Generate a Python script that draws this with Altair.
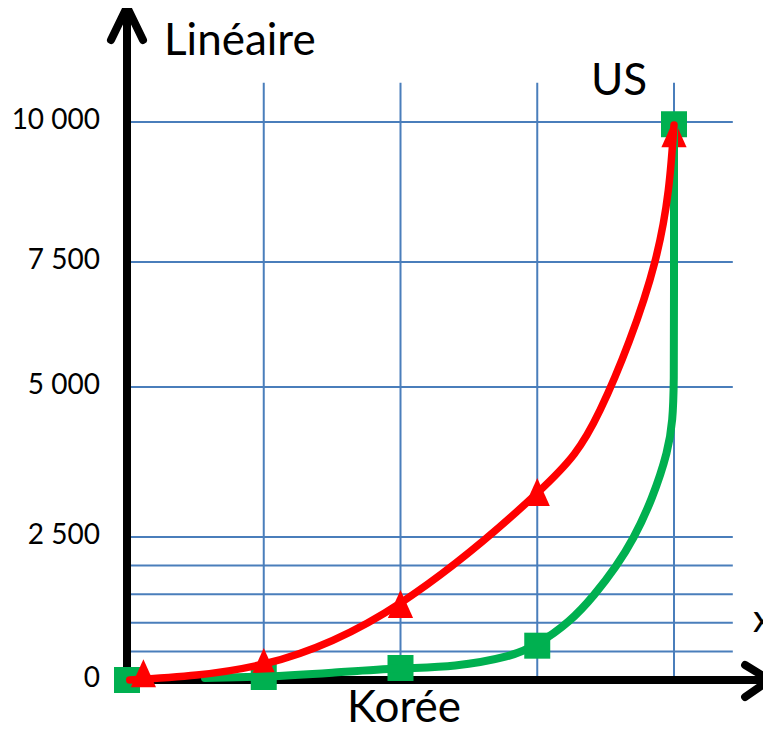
import altair as alt
import pandas as pd

# ---- data ----
y_ticks = [0, 2500, 5000, 7500, 10000]
y_tick_labels = ["0", "2 500", "5 000", "7 500", "10 000"]
y_grid = [500, 1000, 1500, 2000, 2500, 5000, 7500, 10000]
x_grid = [1, 2, 3, 4]
grid_x_end = 4.43
grid_y_top = 10700

# markers
red_mx = [0.12, 1, 2, 3, 4]
red_my = [120, 315, 1330, 3250, 9800]
green_mx = [0, 1, 2, 3, 4]
green_my = [0, 52, 210, 600, 9960]

# drawn curves (traced)
red_cx = [0.02, 1.0, 2.01, 3.0, 3.46, 3.86, 4.0]
red_cy = [0, 280, 1363, 3233, 4617, 7500, 9946]
green_cx = [0.57, 1.0, 1.5, 2.0, 2.4, 2.8, 3.0, 3.24, 3.42, 3.58, 3.70, 3.84, 3.96, 3.99, 4.0, 4.0, 4.0, 4.0]
green_cy = [35, 52, 125, 210, 230, 400, 610, 1014, 1486, 1993, 2447, 3120, 3950, 4450, 5000, 6740, 9900, 10000]

# axis arrows (data space)
yaxis_x = [0, 0]
yaxis_y = [-80, 12000]
yhead_x = [-0.117, 0, 0.117]
yhead_y = [11464, 12054, 11464]
xaxis_x = [-0.05, 4.68]
xaxis_y = [0, 0]
xhead_x = [4.52, 4.70, 4.52]
xhead_y = [262, 0, -297]

RED = "#FF0000"
GREEN = "#00B050"
BLUE = "#4A7EBB"
FONT = "Lato"

xs = alt.Scale(domain=[0, 4], range=[119, 666], nice=False, zero=False)
ys = alt.Scale(domain=y_ticks, range=[672, 529, 379, 254, 114], nice=False, zero=False)


def df_xy(xv, yv):
    return pd.DataFrame({"x": xv, "y": yv, "i": list(range(len(xv)))})


X = alt.X("x:Q", scale=xs, axis=None)
Y = alt.Y("y:Q", scale=ys, axis=None)

hgrid_df = pd.DataFrame({"y": y_grid, "x": [0] * len(y_grid), "x2": [grid_x_end] * len(y_grid)})
hgrid = alt.Chart(hgrid_df).mark_rule(color=BLUE, strokeWidth=2).encode(
    y=Y, x=X, x2="x2:Q"
)
vgrid_df = pd.DataFrame({"x": x_grid, "y": [0] * len(x_grid), "y2": [grid_y_top] * len(x_grid)})
vgrid = alt.Chart(vgrid_df).mark_rule(color=BLUE, strokeWidth=2).encode(
    x=X, y=Y, y2="y2:Q"
)


def poly(xv, yv, color, width, interp="linear"):
    return alt.Chart(df_xy(xv, yv)).mark_line(
        color=color, strokeWidth=width, interpolate=interp, strokeCap="round", strokeJoin="round"
    ).encode(x=X, y=Y, order="i:Q")


yaxis = poly(yaxis_x, yaxis_y, "black", 8)
yhead = poly(yhead_x, yhead_y, "black", 8)
xaxis = poly(xaxis_x, xaxis_y, "black", 8)
xhead = poly(xhead_x, xhead_y, "black", 8)

green_line = poly(green_cx, green_cy, GREEN, 8, "basis")
red_line = poly(red_cx, red_cy, RED, 7.5, "natural")

green_pts = alt.Chart(df_xy(green_mx, green_my)).mark_point(
    shape="square", filled=True, size=676, color=GREEN, opacity=1
).encode(x=X, y=Y)
red_pts = alt.Chart(df_xy(red_mx, red_my)).mark_point(
    shape="M0,-1L0.9,1L-0.9,1Z", filled=True, size=784, color=RED, opacity=1
).encode(x=X, y=Y)

ticks = alt.Chart(pd.DataFrame({"y": y_ticks, "label": y_tick_labels})).mark_text(
    align="right", baseline="middle", font=FONT, fontSize=28, color="black", dy=-1.5
).encode(y=Y, x=alt.value(92), text="label:N")


def title(txt, px, py, size=44):
    return alt.Chart(pd.DataFrame({"t": [txt]})).mark_text(
        align="left", baseline="alphabetic", font=FONT, fontSize=size, color="black"
    ).encode(x=alt.value(px), y=alt.value(py), text="t:N")


t_lin = title("Linéaire", 156, 47)
t_us = title("US", 583, 87)
t_kor = title("Korée", 339, 714)
t_x = title("x", 745, 624, 38)

chart = alt.layer(
    hgrid, vgrid, yaxis, yhead, xaxis, xhead,
    green_pts, red_pts, green_line, red_line,
    ticks, t_lin, t_us, t_kor, t_x,
).properties(
    width=755, height=717, autosize=alt.AutoSizeParams(type="none"), padding=0, background="white"
).configure_view(strokeWidth=0)

chart.save("out.html", embed_options={"renderer": "svg", "actions": False})
